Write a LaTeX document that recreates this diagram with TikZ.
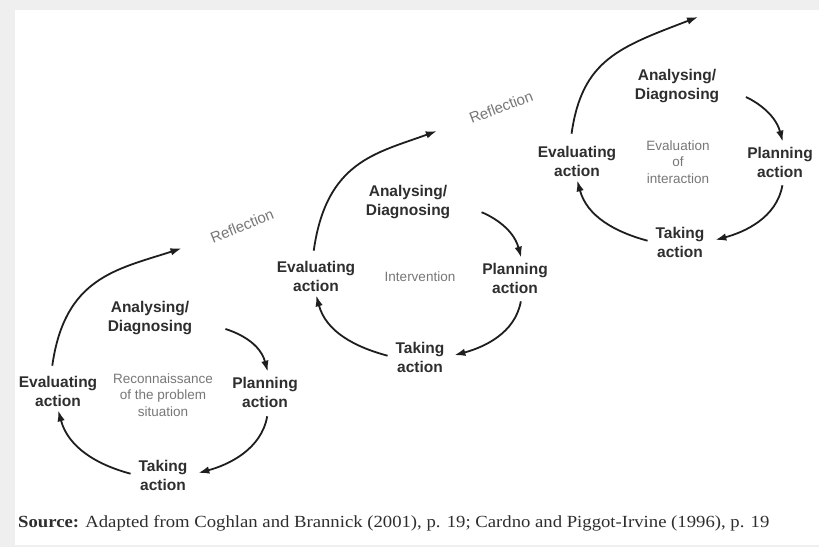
\documentclass[tikz,border=0pt]{standalone}
\usepackage{fontspec}
\setmainfont{Liberation Serif}
\newfontfamily\sansfont{Liberation Sans}
\newfontfamily\srcfont[FakeStretch=1.1]{Liberation Serif}
\usetikzlibrary{arrows.meta}

\definecolor{framegray}{HTML}{EFEFEF}
\definecolor{labelgray}{HTML}{2E2E2E}
\definecolor{softgray}{HTML}{777777}
\definecolor{arrowgray}{HTML}{1E1E1E}

\tikzset{
  lbl/.style={font=\sansfont\bfseries\fontsize{15.5}{19}\selectfont, text=labelgray, align=center, inner sep=3pt},
  mid/.style={font=\sansfont\fontsize{13.5}{16.5}\selectfont, text=softgray, align=center},
  refl/.style={font=\sansfont\fontsize{15}{18}\selectfont, text=softgray, inner sep=3pt},
  cyc/.style={draw=arrowgray, line width=1.8pt, -{Latex[length=11pt,width=7.5pt]}},
}

\begin{document}
\begin{tikzpicture}[x=1pt, y=1pt]
  %frame
  \fill[framegray] (0,0) rectangle (819,-547);
  \fill[white] (15,-10) rectangle (819,-545);
  \useasboundingbox (0,0) rectangle (819,-547);

  %first cycle
  \node[lbl] (a1) at (150,-318) {Analysing/\\Diagnosing};
  \node[lbl] (p1) at (265,-392) {Planning\\action};
  \node[lbl] (t1) at (163,-475) {Taking\\action};
  \node[lbl] (e1) at (58,-391) {Evaluating\\action};
  \node[mid] (c1) at (163,-395) {Reconnaissance\\of the problem\\situation};
  \node[refl, rotate=22] (r1) at (242,-226) {Reflection};

  %second cycle
  \node[lbl] (a2) at (408,-202) {Analysing/\\Diagnosing};
  \node[lbl] (p2) at (515,-278) {Planning\\action};
  \node[lbl] (t2) at (420,-357) {Taking\\action};
  \node[lbl] (e2) at (316,-276) {Evaluating\\action};
  \node[mid] (c2) at (420,-277) {Intervention};
  \node[refl, rotate=21] (r2) at (501,-107) {Reflection};

  %third cycle
  \node[lbl] (a3) at (677,-86) {Analysing/\\Diagnosing};
  \node[lbl] (p3) at (780,-162) {Planning\\action};
  \node[lbl] (t3) at (680,-242) {Taking\\action};
  \node[lbl] (e3) at (577,-161) {Evaluating\\action};
  \node[mid] (c3) at (678,-162) {Evaluation\\of\\interaction};
  \coordinate (top3) at (698,-17);

  %arrows of the first cycle
  \draw[cyc, shorten <=32pt, shorten >=2pt] (a1.east) to[out=-20, in=105] (p1.80);
  \draw[cyc, shorten <=6pt, shorten >=8pt] (p1.-80) to[out=-100, in=15] (t1.east);
  \draw[cyc, shorten <=5pt, shorten >=1pt] (t1.west) to[out=165, in=-75] (e1.south);
  \draw[cyc, shorten <=7pt, shorten >=28pt] (e1.110) to[out=82, in=-162, looseness=1.2] (r1.west);

  %arrows of the second cycle
  \draw[cyc, shorten <=30pt, shorten >=2pt] (a2.east) to[out=-20, in=105] (p2.70);
  \draw[cyc, shorten <=5pt, shorten >=7pt] (p2.-70) to[out=-100, in=15] (t2.east);
  \draw[cyc, shorten <=5pt, shorten >=1pt] (t2.west) to[out=165, in=-75] (e2.south);
  \draw[cyc, shorten <=7pt, shorten >=32pt] (e2.100) to[out=82, in=-160, looseness=1.2] (r2.west);

  %arrows of the third cycle
  \draw[cyc, shorten <=26pt, shorten >=2pt] (a3.east) to[out=-25, in=105] (p3.80);
  \draw[cyc, shorten <=5pt, shorten >=8pt] (p3.-80) to[out=-100, in=15] (t3.east);
  \draw[cyc, shorten <=5pt, shorten >=1pt] (t3.west) to[out=165, in=-75] (e3.south);
  \draw[cyc, shorten <=9pt] (e3.110) to[out=82, in=-159, looseness=1.2] (top3);

  %source line
  \node[anchor=base west, inner sep=0pt, font=\srcfont\fontsize{17}{20}\selectfont, text=labelgray] (src) at (18,-527)
    {\textbf{Source:} Adapted from Coghlan and Brannick (2001), p. 19; Cardno and Piggot-Irvine (1996), p. 19};
\end{tikzpicture}
\end{document}
